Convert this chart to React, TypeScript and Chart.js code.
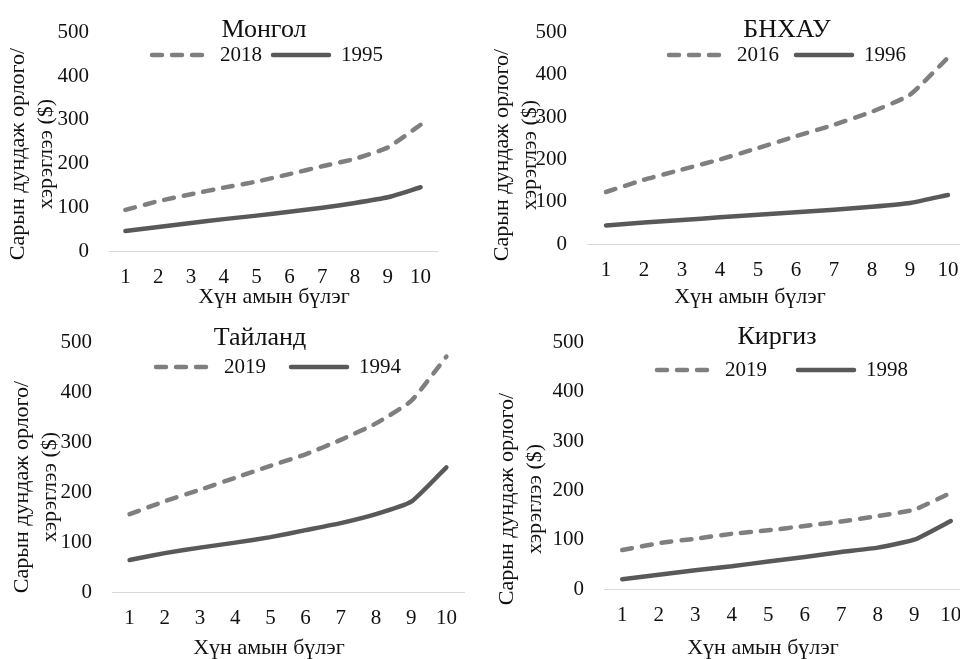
import { useEffect, useRef } from "react";
import { Chart, registerables } from "chart.js";

Chart.register(...registerables);

Chart.defaults.font.family = '"Liberation Serif", "Times New Roman", serif';
Chart.defaults.color = '#111';

// Income deciles (x axis)
const deciles = ['1', '2', '3', '4', '5', '6', '7', '8', '9', '10'];
const yTicks = [0, 100, 200, 300, 400, 500];

// Average monthly income / consumption ($) by decile
const mongolia2018 = [94, 114, 130, 145, 159, 176, 194, 211, 237, 289];
const mongolia1995 = [46, 55, 64, 73, 81, 90, 99, 110, 123, 146];
const china2016 = [123, 152, 176, 200, 227, 255, 282, 313, 353, 441];
const china1996 = [44, 51, 57, 63, 69, 75, 81, 88, 97, 116];
const thailand2019 = [156, 182, 205, 229, 253, 276, 305, 338, 383, 472];
const thailand1994 = [64, 78, 89, 99, 110, 124, 138, 156, 181, 250];
const kyrgyz2019 = [79, 93, 102, 112, 119, 128, 137, 148, 161, 195];
const kyrgyz1998 = [20, 29, 38, 46, 56, 65, 75, 84, 100, 138];

const xTitle = 'Хүн амын бүлэг';
const yTitleLines = ['Сарын дундаж орлого/', 'хэрэглээ ($)'];

const DASHED = '#7f7f7f';
const SOLID = '#595959';

// Layout per panel (canvas-local pixel positions)
const panels = [
  {
    title: 'Монгол', years: ['2018', '1995'], series: [mongolia2018, mongolia1995],
    box: { x: 0, y: 0, w: 480, h: 320 },
    area: { left: 109, right: 437, top: 23, bottom: 251 },
    titlePos: [264, 30], legendPos: [150, 55, 9], xTitlePos: [274, 297], yTitlePos: [18, 46, 154],
  },
  {
    title: 'БНХАУ', years: ['2016', '1996'], series: [china2016, china1996],
    box: { x: 480, y: 0, w: 520, h: 320 },
    area: { left: 107, right: 487, top: 18, bottom: 244 },
    titlePos: [307, 30], legendPos: [187, 55, 15], xTitlePos: [270, 297], yTitlePos: [22, 50, 155],
  },
  {
    title: 'Тайланд', years: ['2019', '1994'], series: [thailand2019, thailand1994],
    box: { x: 0, y: 310, w: 480, h: 349 },
    area: { left: 112, right: 464, top: 25, bottom: 282 },
    titlePos: [260, 28], legendPos: [154, 57, 23], xTitlePos: [269, 338], yTitlePos: [22, 50, 177],
  },
  {
    title: 'Киргиз', years: ['2019', '1998'], series: [kyrgyz2019, kyrgyz1998],
    box: { x: 480, y: 310, w: 520, h: 349 },
    area: { left: 124, right: 489, top: 17, bottom: 279 },
    titlePos: [297, 27], legendPos: [175, 60, 29], xTitlePos: [283, 338], yTitlePos: [27, 55, 189],
  },
];

// Draws the title, legend and axis titles on top of the plot like the original
const panelText = {
  id: 'panelText',
  afterDraw(chart: any, _args: any, opts: any) {
    const ctx = chart.ctx as CanvasRenderingContext2D;
    const fam = Chart.defaults.font.family;
    ctx.save();
    ctx.fillStyle = '#111';
    ctx.textBaseline = 'middle';

    // title
    ctx.textAlign = 'center';
    ctx.font = `26px ${fam}`;
    ctx.fillText(opts.title, opts.titlePos[0], opts.titlePos[1]);

    // legend
    ctx.font = `21px ${fam}`;
    ctx.textAlign = 'left';
    let [lx, ly, gap] = opts.legendPos;
    chart.data.datasets.forEach((ds: any) => {
      ctx.save();
      ctx.strokeStyle = ds.borderColor;
      ctx.lineWidth = 4.5;
      ctx.lineCap = 'round';
      ctx.setLineDash(ds.borderDash || []);
      ctx.beginPath();
      ctx.moveTo(lx + 2, ly);
      ctx.lineTo(lx + 58, ly);
      ctx.stroke();
      ctx.restore();
      lx += 70;
      ctx.fillText(ds.label, lx, ly);
      lx += ctx.measureText(ds.label).width + gap;
    });

    // x axis title
    ctx.font = `22px ${fam}`;
    ctx.textAlign = 'center';
    ctx.fillText(xTitle, opts.xTitlePos[0], opts.xTitlePos[1]);

    // y axis title (two rotated lines)
    const [x1, x2, yc] = opts.yTitlePos;
    ctx.save();
    ctx.translate(x1, yc);
    ctx.rotate(-Math.PI / 2);
    ctx.fillText(yTitleLines[0], 0, 0);
    ctx.fillText(yTitleLines[1], 0, x2 - x1);
    ctx.restore();

    ctx.restore();
  },
};

const Panel = ({ cfg }: { cfg: typeof panels[number] }) => {
  const canvasRef = useRef<HTMLCanvasElement>(null);

  useEffect(() => {
    if (!canvasRef.current) return;
    const { box, area } = cfg;
    const chart = new Chart(canvasRef.current, {
      type: 'line',
      data: {
        labels: deciles,
        datasets: [
          {
            label: cfg.years[0],
            data: cfg.series[0],
            borderColor: DASHED,
            borderWidth: 4.5,
            borderDash: [10, 10],
            borderCapStyle: 'round',
            pointRadius: 0,
            tension: 0.15,
          },
          {
            label: cfg.years[1],
            data: cfg.series[1],
            borderColor: SOLID,
            borderWidth: 4.5,
            borderCapStyle: 'round',
            pointRadius: 0,
            tension: 0.15,
          },
        ],
      },
      options: {
        responsive: true,
        maintainAspectRatio: false,
        animation: false,
        layout: {
          padding: { left: 0, top: area.top, right: box.w - area.right, bottom: 0 },
        },
        scales: {
          x: {
            offset: true,
            grid: { display: false, drawTicks: false },
            border: { display: true, color: '#d9d9d9', width: 1 },
            ticks: { font: { size: 21 }, padding: 13.5, maxRotation: 0 },
            afterFit: (scale: any) => { scale.height = box.h - area.bottom; },
          },
          y: {
            min: yTicks[0],
            max: yTicks[yTicks.length - 1],
            grid: { display: false, drawTicks: false },
            border: { display: false },
            ticks: { font: { size: 21 }, padding: 20, stepSize: 100 },
            afterFit: (scale: any) => { scale.width = area.left; },
          },
        },
        plugins: {
          legend: { display: false },
          title: { display: false },
          tooltip: { enabled: false },
          // @ts-ignore
          panelText: {
            title: cfg.title,
            titlePos: cfg.titlePos,
            legendPos: cfg.legendPos,
            xTitlePos: cfg.xTitlePos,
            yTitlePos: cfg.yTitlePos,
          },
        },
      },
      plugins: [panelText],
    });
    return () => chart.destroy();
  }, [cfg]);

  const { box } = cfg;
  return (
    <div style={{ position: 'absolute', left: box.x, top: box.y, width: box.w, height: box.h }}>
      <canvas ref={canvasRef}></canvas>
    </div>
  );
};

export default function App() {
  return (
    <div style={{ position: 'absolute', left: 0, top: 0, width: 960, height: 659, overflow: 'hidden', background: '#fff' }}>
      {panels.map(p => <Panel key={p.title} cfg={p} />)}
    </div>
  );
}
